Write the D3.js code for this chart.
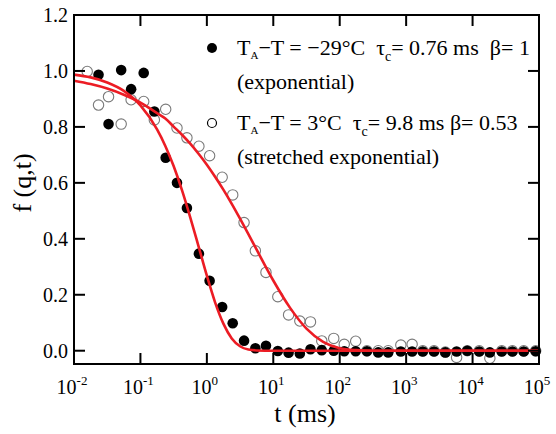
<!DOCTYPE html>
<html>
<head>
<meta charset="utf-8">
<script src="https://cdnjs.cloudflare.com/ajax/libs/d3/7.8.5/d3.min.js"></script>
<style>
  body { margin: 0; background: #fff; }
  svg text { font-family: "Liberation Serif", "Times New Roman", serif; fill: #000; }
</style>
</head>
<body>
<div class="content"></div>
<script>
var width = 556
var height = 434

// time grid (ms) shared by the measured points
var times = [0.0158, 0.0234, 0.0331, 0.0513, 0.0724, 0.112, 0.162, 0.240, 0.355, 0.501,
    0.759, 1.10, 1.70, 2.45, 3.63, 5.37, 7.76, 11.7, 17.0, 25.1,
    36.3, 53.7, 81.3, 117, 174, 257, 380, 537, 832, 1230,
    1780, 2630, 3890, 5750, 8320, 12600, 18200, 27500, 39800, 58900, 89100]

// T_A - T = -29 C (filled), starts at the second time
var fastF = [null, 0.986, 0.81, 1.003, 0.935, 0.993, 0.855, 0.69, 0.60, 0.51,
    0.347, 0.25, 0.156, 0.098, 0.036, 0.009, 0.018, -0.001, -0.007, -0.01,
    0.005, 0.002, 0.0, -0.002, -0.002, -0.002, -0.006, -0.006, -0.003, -0.003,
    -0.003, -0.003, -0.006, -0.003, 0.0, -0.003, -0.006, -0.003, -0.003, -0.003, -0.002]

// T_A - T = 3 C (open)
var slowF = [0.998, 0.878, 0.908, 0.81, 0.897, 0.891, 0.825, 0.863, 0.796, 0.761,
    0.731, 0.697, 0.62, 0.557, 0.458, 0.357, 0.28, 0.193, 0.128, 0.106,
    0.103, 0.035, 0.044, 0.023, 0.034, 0.0, 0.0, 0.0, 0.02, 0.023,
    0.0, 0.0, -0.005, -0.024, 0.0, 0.0, -0.027, 0.0, 0.0, 0.0, 0.0]

// fit curves
var fitT = [0.01, 0.0178, 0.0316, 0.0562, 0.1, 0.178, 0.237, 0.316, 0.422, 0.562,
    0.75, 1.0, 1.33, 1.78, 2.37, 3.16, 4.22, 5.62, 10, 17.8,
    31.6, 56.2, 100, 178, 316, 1000, 10000, 100000]
var fitFast = [0.987, 0.977, 0.959, 0.929, 0.877, 0.791, 0.732, 0.660, 0.574, 0.477,
    0.373, 0.268, 0.173, 0.096, 0.044, 0.016, 0.004, 0.001, 0, 0,
    0, 0, 0, 0, 0, 0, 0, 0]
var fitSlow = [0.965, 0.953, 0.937, 0.915, 0.887, 0.849, 0.830, 0.801, 0.772, 0.740,
    0.704, 0.665, 0.622, 0.575, 0.525, 0.472, 0.417, 0.361, 0.251, 0.154,
    0.079, 0.032, 0.009, 0.002, 0.0, 0, 0, 0]

var xTicks = [-2, -1, 0, 1, 2, 3, 4, 5]
var yTicks = [0, 0.2, 0.4, 0.6, 0.8, 1.0, 1.2]

var x = d3.scaleLog()
    .domain([0.01, 100000])
    .range([74, 539])

var y = d3.scaleLinear()
    .domain([-0.0475, 1.2])
    .range([364, 15])

var svg = d3.select('.content').append('svg')
    .attr('width', width)
    .attr('height', height)

var red = '#ec1c24'

// data: open first, filled on top, curves over everything
svg.append('g')
    .selectAll('circle')
    .data(times.map(function(t, i) { return [t, slowF[i]] }))
    .enter().append('circle')
    .attr('cx', function(d) { return x(d[0]) })
    .attr('cy', function(d) { return y(d[1]) })
    .attr('r', 5.2)
    .style('fill', '#fff')
    .style('stroke', '#7a7a7a')
    .style('stroke-width', 1.1)

svg.append('g')
    .selectAll('circle')
    .data(times.map(function(t, i) { return [t, fastF[i]] }).filter(function(d) { return d[1] !== null }))
    .enter().append('circle')
    .attr('cx', function(d) { return x(d[0]) })
    .attr('cy', function(d) { return y(d[1]) })
    .attr('r', 5.3)
    .style('fill', '#000')

var line = d3.line()
    .x(function(d) { return x(d[0]) })
    .y(function(d) { return y(d[1]) })
    .curve(d3.curveMonotoneX)

svg.append('path')
    .datum(fitT.map(function(t, i) { return [t, fitFast[i]] }))
    .attr('d', line)
    .style('fill', 'none')
    .style('stroke', red)
    .style('stroke-width', 2.6)

svg.append('path')
    .datum(fitT.map(function(t, i) { return [t, fitSlow[i]] }))
    .attr('d', line)
    .style('fill', 'none')
    .style('stroke', red)
    .style('stroke-width', 2.6)

// frame
svg.append('rect')
    .attr('x', 74).attr('y', 15)
    .attr('width', 465).attr('height', 349)
    .style('fill', 'none')
    .style('stroke', '#000')
    .style('stroke-width', 2)

// ticks (inward on all four sides)
var tk = 11
var axes = svg.append('g').style('stroke', '#000').style('stroke-width', 2)
xTicks.slice(1, -1).forEach(function(p) {
    var xp = x(Math.pow(10, p))
    axes.append('line').attr('x1', xp).attr('x2', xp).attr('y1', 364).attr('y2', 364 - tk)
    axes.append('line').attr('x1', xp).attr('x2', xp).attr('y1', 15).attr('y2', 15 + tk)
})
yTicks.slice(0, -1).forEach(function(v) {
    axes.append('line').attr('x1', 74).attr('x2', 74 + tk).attr('y1', y(v)).attr('y2', y(v))
    axes.append('line').attr('x1', 539).attr('x2', 539 - tk).attr('y1', y(v)).attr('y2', y(v))
})

// tick labels
svg.append('g').selectAll('text')
    .data(yTicks)
    .enter().append('text')
    .attr('x', 68)
    .attr('y', function(d) { return y(d) + 7 })
    .attr('text-anchor', 'end')
    .style('font-size', '20px')
    .text(function(d) { return d.toFixed(1) })

var xl = svg.append('g').selectAll('text')
    .data(xTicks)
    .enter().append('text')
    .attr('x', function(d) { return x(Math.pow(10, d)) - 2 })
    .attr('y', 394)
    .attr('text-anchor', 'middle')
    .style('font-size', '20px')
xl.append('tspan').text('10')
xl.append('tspan')
    .attr('dy', -9)
    .style('font-size', '13px')
    .text(function(d) { return d })

// axis titles
svg.append('text')
    .attr('x', 305).attr('y', 422)
    .attr('text-anchor', 'middle')
    .style('font-size', '26px')
    .text('t (ms)')

svg.append('text')
    .attr('transform', 'translate(31,183) rotate(-90)')
    .attr('text-anchor', 'middle')
    .style('font-size', '26px')
    .text('f (q,t)')

// legend
var legendRows = [
    { y: 55, filled: true, temp: '\u2212T = \u221229\u00b0C  ', tau: '= 0.76 ms  \u03b2= 1', note: '(exponential)' },
    { y: 130, filled: false, temp: '\u2212T = 3\u00b0C  ', tau: '= 9.8 ms \u03b2= 0.53', note: '(stretched exponential)' }
]
legendRows.forEach(function(r) {
    svg.append('circle')
        .attr('cx', 212).attr('cy', r.y - 7)
        .attr('r', r.filled ? 5 : 4.5)
        .style('fill', r.filled ? '#000' : '#fff')
        .style('stroke', '#000')
        .style('stroke-width', r.filled ? 0 : 1.2)
    var t = svg.append('text')
        .attr('x', 237).attr('y', r.y)
        .style('font-size', '22px')
        .style('white-space', 'pre')
    t.append('tspan').text('T')
    t.append('tspan').attr('dy', 4).style('font-size', '11px').text('A')
    t.append('tspan').attr('dy', -4).text(r.temp + '\u03c4')
    t.append('tspan').attr('dy', 6).style('font-size', '14px').text('c')
    t.append('tspan').attr('dy', -6).text(r.tau)
    svg.append('text')
        .attr('x', 237).attr('y', r.y + 34)
        .style('font-size', '22px')
        .text(r.note)
})
</script>
</body>
</html>
